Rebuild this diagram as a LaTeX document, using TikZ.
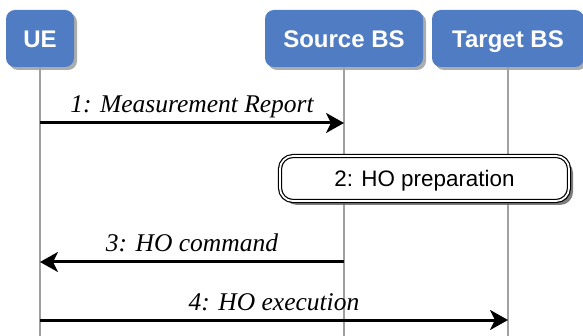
\documentclass[tikz,border=0pt]{standalone}
\usepackage{fontspec}
\setmainfont{Liberation Serif}
\setsansfont{Liberation Sans}
\usetikzlibrary{arrows.meta,shadows}
\definecolor{boxblue}{RGB}{80,124,196}
\definecolor{lifegray}{RGB}{160,160,160}
\tikzset{
  actor/.style={rectangle, rounded corners=9pt, fill=boxblue, text=white,
    font=\sffamily\bfseries\fontsize{24}{24}\selectfont, inner sep=0pt,
    minimum height=57pt, text height=17.2pt, text depth=0pt,
    drop shadow={shadow xshift=3pt, shadow yshift=-3pt, fill=black!65}},
  lifeline/.style={draw=lifegray, line width=1.3pt},
  msg/.style={line width=3pt, -{Stealth[length=18pt, width=20pt, inset=5pt]}},
  msglabel/.style={font=\itshape\fontsize{25.5}{25.5}\selectfont, anchor=base, inner sep=0pt},
  procbox/.style={rectangle, rounded corners=13pt, draw=black, double=white,
    double distance=1.8pt, line width=1.2pt, fill=white,
    minimum width=289pt, minimum height=45pt, inner sep=0pt,
    text height=16pt, text depth=0pt,
    font=\sffamily\fontsize{22.4}{22.4}\selectfont,
    drop shadow={shadow xshift=4pt, shadow yshift=-4pt, fill=black!60, opacity=0.85}}
}
\begin{document}
\begin{tikzpicture}[x=1pt,y=-1pt]
\useasboundingbox (0,0) rectangle (583,336);
% lifelines
\coordinate (ueb) at (40,336);
\coordinate (sbsb) at (344,336);
\coordinate (tbsb) at (508,336);
\node[actor, minimum width=68pt] (UE) at (40,38.5) {UE};
\node[actor, minimum width=158pt] (SBS) at (344,38.5) {Source BS};
\node[actor, minimum width=152pt] (TBS) at (508,38.5) {Target BS};
\draw[lifeline] (UE.south) -- (ueb);
\draw[lifeline] (SBS.south) -- (sbsb);
\draw[lifeline] (TBS.south) -- (tbsb);
% message points
\coordinate (ue1) at (40,123);
\coordinate (s1) at (344,123);
\coordinate (s3) at (344,262);
\coordinate (ue3) at (40,262);
\coordinate (ue4) at (40,320);
\coordinate (t4) at (508,320);
\draw[msg] (ue1) -- (s1);
\node[msglabel] (l1) at (192,113) {1: Measurement Report};
\node[procbox] (prep) at (424.5,178.5) {2: HO preparation};
\draw[msg] (s3) -- (ue3);
\node[msglabel] (l3) at (192,252) {3: HO command};
\draw[msg] (ue4) -- (t4);
\node[msglabel] (l4) at (274,310) {4: HO execution};
\end{tikzpicture}
\end{document}
